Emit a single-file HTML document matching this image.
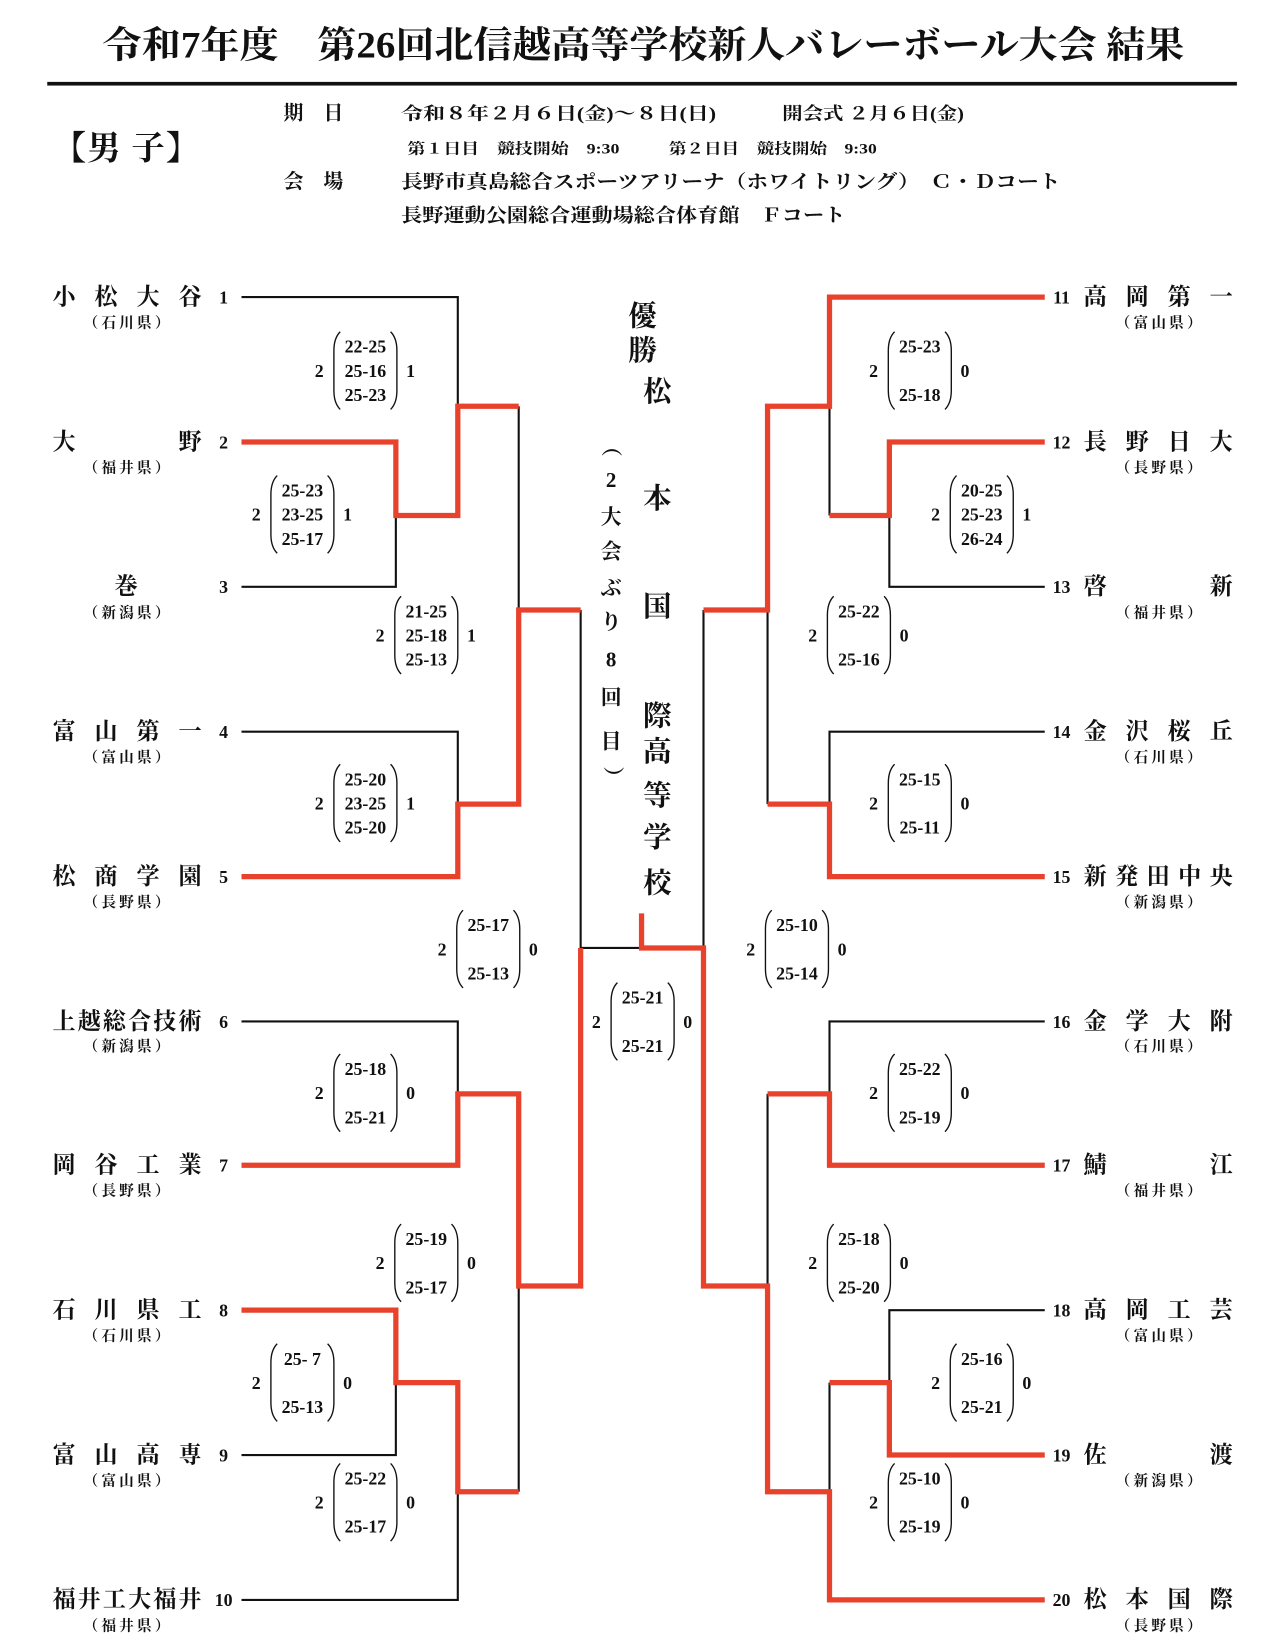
<!DOCTYPE html>
<html><head><meta charset="utf-8"><style>
html,body{margin:0;padding:0;background:#fff;}
svg{display:block;}
text{font-family:"Liberation Serif","Noto Serif CJK JP","Noto Serif CJK SC",serif;font-weight:bold;fill:#111;}
.s{font-size:17px;text-anchor:middle;}
.br{fill:none;stroke:#111;stroke-width:1.3;}
.k{fill:none;stroke:#111;stroke-width:2;}
.r{fill:none;stroke:#e8412c;stroke-width:5;stroke-linejoin:miter;}
.nm{font-size:22px;}
.pf{font-size:14px;text-anchor:middle;letter-spacing:3px;}
.no{font-size:17px;text-anchor:middle;}
.c{font-size:27px;text-anchor:middle;}
.v{font-size:20px;text-anchor:middle;}
</style></head><body>
<svg width="1281" height="1644" viewBox="0 0 1220 1566" preserveAspectRatio="none" xmlns="http://www.w3.org/2000/svg">
<text x="98" y="55" style="font-size:35px" textLength="1030" lengthAdjust="spacingAndGlyphs">令和7年度　第26回北信越高等学校新人バレーボール大会  結果</text>
<rect x="45" y="78" width="1133" height="3.5" fill="#111"/>
<text x="50" y="152" style="font-size:32px" textLength="140" lengthAdjust="spacing">【男  子】</text>
<text x="270" y="114" style="font-size:19px">期　日</text>
<text x="382" y="114" style="font-size:17px" textLength="300" lengthAdjust="spacingAndGlyphs">令和８年２月６日(金)～８日(日)</text>
<text x="745" y="114" style="font-size:17px" textLength="173" lengthAdjust="spacingAndGlyphs">開会式  ２月６日(金)</text>
<text x="388" y="146" style="font-size:14px" textLength="202" lengthAdjust="spacingAndGlyphs">第１日目　競技開始　9:30</text>
<text x="637" y="146" style="font-size:14px" textLength="198" lengthAdjust="spacingAndGlyphs">第２日目　競技開始　9:30</text>
<text x="270" y="179" style="font-size:19px">会　場</text>
<text x="382" y="179" style="font-size:18px" textLength="628" lengthAdjust="spacingAndGlyphs">長野市真島総合スポーツアリーナ（ホワイトリング）　Ｃ・Ｄコート</text>
<text x="382" y="211" style="font-size:18px" textLength="423" lengthAdjust="spacingAndGlyphs">長野運動公園総合運動場総合体育館　Ｆコート</text>

<path class="k" d="M230 283 H436 V387"/>
<path class="k" d="M377 491 V559 H230"/>
<path class="k" d="M494 387 V581"/>
<path class="k" d="M230 697 H436 V766"/>
<path class="k" d="M553 581 V903 H611"/>
<path class="k" d="M230 973 H436 V1042"/>
<path class="k" d="M230 1386 H377 V1317"/>
<path class="k" d="M230 1524 H436 V1421"/>
<path class="k" d="M494 1225 V1421"/>
<path class="k" d="M790 387 V491"/>
<path class="k" d="M847 491 V559 H995"/>
<path class="k" d="M731 581 V766"/>
<path class="k" d="M670 581 V903"/>
<path class="k" d="M995 697 H790 V766"/>
<path class="k" d="M995 973 H790 V1042"/>
<path class="k" d="M731 1042 V1225"/>
<path class="k" d="M995 1248 H847 V1317"/>
<path class="k" d="M790 1317 V1421"/>
<path class="r" d="M230 421 H377 V491 H436 V387 H494"/>
<path class="r" d="M230 835 H436 V766 H494 V581 H553"/>
<path class="r" d="M230 1110 H436 V1042 H494 V1225 H553 V903"/>
<path class="r" d="M230 1248 H377 V1317 H436 V1421 H494"/>
<path class="r" d="M611 870 V903 H670 V1225 H731 V1421 H790 V1524 H995"/>
<path class="r" d="M995 283 H790 V387 H731 V581 H670"/>
<path class="r" d="M995 421 H847 V491 H790"/>
<path class="r" d="M995 835 H790 V766 H731"/>
<path class="r" d="M995 1110 H790 V1042 H731"/>
<path class="r" d="M995 1386 H847 V1317 H790"/>

<g class="nm">
<text x="50" y="290" textLength="142" lengthAdjust="spacing">小松大谷</text>
<text x="50" y="428" textLength="142" lengthAdjust="spacing">大野</text>
<text x="120" y="566" text-anchor="middle">巻</text>
<text x="50" y="704" textLength="142" lengthAdjust="spacing">富山第一</text>
<text x="50" y="842" textLength="142" lengthAdjust="spacing">松商学園</text>
<text x="50" y="980" textLength="142" lengthAdjust="spacing">上越総合技術</text>
<text x="50" y="1117" textLength="142" lengthAdjust="spacing">岡谷工業</text>
<text x="50" y="1255" textLength="142" lengthAdjust="spacing">石川県工</text>
<text x="50" y="1393" textLength="142" lengthAdjust="spacing">富山高専</text>
<text x="50" y="1531" textLength="142" lengthAdjust="spacing">福井工大福井</text>
<text x="1032" y="290" textLength="142" lengthAdjust="spacing">高岡第一</text>
<text x="1032" y="428" textLength="142" lengthAdjust="spacing">長野日大</text>
<text x="1032" y="566" textLength="142" lengthAdjust="spacing">啓新</text>
<text x="1032" y="704" textLength="142" lengthAdjust="spacing">金沢桜丘</text>
<text x="1032" y="842" textLength="142" lengthAdjust="spacing">新発田中央</text>
<text x="1032" y="980" textLength="142" lengthAdjust="spacing">金学大附</text>
<text x="1032" y="1117" textLength="142" lengthAdjust="spacing">鯖江</text>
<text x="1032" y="1255" textLength="142" lengthAdjust="spacing">高岡工芸</text>
<text x="1032" y="1393" textLength="142" lengthAdjust="spacing">佐渡</text>
<text x="1032" y="1531" textLength="142" lengthAdjust="spacing">松本国際</text>
</g>
<g class="pf">
<text x="122" y="312">（石川県）</text>
<text x="122" y="450">（福井県）</text>
<text x="122" y="588">（新潟県）</text>
<text x="122" y="726">（富山県）</text>
<text x="122" y="864">（長野県）</text>
<text x="122" y="1001">（新潟県）</text>
<text x="122" y="1139">（長野県）</text>
<text x="122" y="1277">（石川県）</text>
<text x="122" y="1415">（富山県）</text>
<text x="122" y="1553">（福井県）</text>
<text x="1105" y="312">（富山県）</text>
<text x="1105" y="450">（長野県）</text>
<text x="1105" y="588">（福井県）</text>
<text x="1105" y="726">（石川県）</text>
<text x="1105" y="864">（新潟県）</text>
<text x="1105" y="1001">（石川県）</text>
<text x="1105" y="1139">（福井県）</text>
<text x="1105" y="1277">（富山県）</text>
<text x="1105" y="1415">（新潟県）</text>
<text x="1105" y="1553">（長野県）</text>
</g>
<g class="no">
<text x="213" y="289">1</text><text x="213" y="427">2</text><text x="213" y="565">3</text><text x="213" y="703">4</text><text x="213" y="841">5</text>
<text x="213" y="979">6</text><text x="213" y="1116">7</text><text x="213" y="1254">8</text><text x="213" y="1392">9</text><text x="213" y="1530">10</text>
<text x="1011" y="289">11</text><text x="1011" y="427">12</text><text x="1011" y="565">13</text><text x="1011" y="703">14</text><text x="1011" y="841">15</text>
<text x="1011" y="979">16</text><text x="1011" y="1116">17</text><text x="1011" y="1254">18</text><text x="1011" y="1392">19</text><text x="1011" y="1530">20</text>
</g>

<g class="c">
<text x="612" y="310">優</text><text x="612" y="343">勝</text>
<text x="626" y="382">松</text><text x="626" y="484">本</text><text x="626" y="587">国</text>
<text x="626" y="691">際</text><text x="626" y="725">高</text><text x="626" y="767">等</text><text x="626" y="807">学</text><text x="626" y="850">校</text>
</g>
<g class="v">
<text x="582" y="432" transform="rotate(90 582 425)">（</text>
<text x="582" y="464">2</text><text x="582" y="499">大</text><text x="582" y="532">会</text><text x="582" y="567">ぶ</text><text x="582" y="599">り</text>
<text x="582" y="635">8</text><text x="582" y="671">回</text><text x="582" y="713">目</text>
<text x="582" y="745" transform="rotate(90 582 740)">）</text>
</g>

<g class="s">
<text x="304" y="359">2</text><path class="br" d="M324 316 Q318 322 318 334 L318 372 Q318 384 324 390"/><path class="br" d="M372 316 Q378 322 378 334 L378 372 Q378 384 372 390"/>
<text x="348" y="336">22-25</text><text x="348" y="359">25-16</text><text x="348" y="382">25-23</text><text x="391" y="359">1</text>
<text x="244" y="496">2</text><path class="br" d="M264 453 Q258 459 258 471 L258 509 Q258 521 264 527"/><path class="br" d="M312 453 Q318 459 318 471 L318 509 Q318 521 312 527"/>
<text x="288" y="473">25-23</text><text x="288" y="496">23-25</text><text x="288" y="519">25-17</text><text x="331" y="496">1</text>
<text x="362" y="611">2</text><path class="br" d="M382 568 Q376 574 376 586 L376 624 Q376 636 382 642"/><path class="br" d="M430 568 Q436 574 436 586 L436 624 Q436 636 430 642"/>
<text x="406" y="588">21-25</text><text x="406" y="611">25-18</text><text x="406" y="634">25-13</text><text x="449" y="611">1</text>
<text x="304" y="771">2</text><path class="br" d="M324 728 Q318 734 318 746 L318 784 Q318 796 324 802"/><path class="br" d="M372 728 Q378 734 378 746 L378 784 Q378 796 372 802"/>
<text x="348" y="748">25-20</text><text x="348" y="771">23-25</text><text x="348" y="794">25-20</text><text x="391" y="771">1</text>
<text x="421" y="910">2</text><path class="br" d="M441 867 Q435 873 435 885 L435 923 Q435 935 441 941"/><path class="br" d="M489 867 Q495 873 495 885 L495 923 Q495 935 489 941"/>
<text x="465" y="887">25-17</text><text x="465" y="933">25-13</text><text x="508" y="910">0</text>
<text x="304" y="1047">2</text><path class="br" d="M324 1004 Q318 1010 318 1022 L318 1060 Q318 1072 324 1078"/><path class="br" d="M372 1004 Q378 1010 378 1022 L378 1060 Q378 1072 372 1078"/>
<text x="348" y="1024">25-18</text><text x="348" y="1070">25-21</text><text x="391" y="1047">0</text>
<text x="362" y="1209">2</text><path class="br" d="M382 1166 Q376 1172 376 1184 L376 1222 Q376 1234 382 1240"/><path class="br" d="M430 1166 Q436 1172 436 1184 L436 1222 Q436 1234 430 1240"/>
<text x="406" y="1186">25-19</text><text x="406" y="1232">25-17</text><text x="449" y="1209">0</text>
<text x="244" y="1323">2</text><path class="br" d="M264 1280 Q258 1286 258 1298 L258 1336 Q258 1348 264 1354"/><path class="br" d="M312 1280 Q318 1286 318 1298 L318 1336 Q318 1348 312 1354"/>
<text x="288" y="1300" xml:space="preserve">25- 7</text><text x="288" y="1346">25-13</text><text x="331" y="1323">0</text>
<text x="304" y="1437">2</text><path class="br" d="M324 1394 Q318 1400 318 1412 L318 1450 Q318 1462 324 1468"/><path class="br" d="M372 1394 Q378 1400 378 1412 L378 1450 Q378 1462 372 1468"/>
<text x="348" y="1414">25-22</text><text x="348" y="1460">25-17</text><text x="391" y="1437">0</text>
<text x="568" y="979">2</text><path class="br" d="M588 936 Q582 942 582 954 L582 992 Q582 1004 588 1010"/><path class="br" d="M636 936 Q642 942 642 954 L642 992 Q642 1004 636 1010"/>
<text x="612" y="956">25-21</text><text x="612" y="1002">25-21</text><text x="655" y="979">0</text>
<text x="832" y="359">2</text><path class="br" d="M852 316 Q846 322 846 334 L846 372 Q846 384 852 390"/><path class="br" d="M900 316 Q906 322 906 334 L906 372 Q906 384 900 390"/>
<text x="876" y="336">25-23</text><text x="876" y="382">25-18</text><text x="919" y="359">0</text>
<text x="891" y="496">2</text><path class="br" d="M911 453 Q905 459 905 471 L905 509 Q905 521 911 527"/><path class="br" d="M959 453 Q965 459 965 471 L965 509 Q965 521 959 527"/>
<text x="935" y="473">20-25</text><text x="935" y="496">25-23</text><text x="935" y="519">26-24</text><text x="978" y="496">1</text>
<text x="774" y="611">2</text><path class="br" d="M794 568 Q788 574 788 586 L788 624 Q788 636 794 642"/><path class="br" d="M842 568 Q848 574 848 586 L848 624 Q848 636 842 642"/>
<text x="818" y="588">25-22</text><text x="818" y="634">25-16</text><text x="861" y="611">0</text>
<text x="832" y="771">2</text><path class="br" d="M852 728 Q846 734 846 746 L846 784 Q846 796 852 802"/><path class="br" d="M900 728 Q906 734 906 746 L906 784 Q906 796 900 802"/>
<text x="876" y="748">25-15</text><text x="876" y="794">25-11</text><text x="919" y="771">0</text>
<text x="715" y="910">2</text><path class="br" d="M735 867 Q729 873 729 885 L729 923 Q729 935 735 941"/><path class="br" d="M783 867 Q789 873 789 885 L789 923 Q789 935 783 941"/>
<text x="759" y="887">25-10</text><text x="759" y="933">25-14</text><text x="802" y="910">0</text>
<text x="832" y="1047">2</text><path class="br" d="M852 1004 Q846 1010 846 1022 L846 1060 Q846 1072 852 1078"/><path class="br" d="M900 1004 Q906 1010 906 1022 L906 1060 Q906 1072 900 1078"/>
<text x="876" y="1024">25-22</text><text x="876" y="1070">25-19</text><text x="919" y="1047">0</text>
<text x="774" y="1209">2</text><path class="br" d="M794 1166 Q788 1172 788 1184 L788 1222 Q788 1234 794 1240"/><path class="br" d="M842 1166 Q848 1172 848 1184 L848 1222 Q848 1234 842 1240"/>
<text x="818" y="1186">25-18</text><text x="818" y="1232">25-20</text><text x="861" y="1209">0</text>
<text x="891" y="1323">2</text><path class="br" d="M911 1280 Q905 1286 905 1298 L905 1336 Q905 1348 911 1354"/><path class="br" d="M959 1280 Q965 1286 965 1298 L965 1336 Q965 1348 959 1354"/>
<text x="935" y="1300">25-16</text><text x="935" y="1346">25-21</text><text x="978" y="1323">0</text>
<text x="832" y="1437">2</text><path class="br" d="M852 1394 Q846 1400 846 1412 L846 1450 Q846 1462 852 1468"/><path class="br" d="M900 1394 Q906 1400 906 1412 L906 1450 Q906 1462 900 1468"/>
<text x="876" y="1414">25-10</text><text x="876" y="1460">25-19</text><text x="919" y="1437">0</text>
</g>
</svg>
</body></html>
